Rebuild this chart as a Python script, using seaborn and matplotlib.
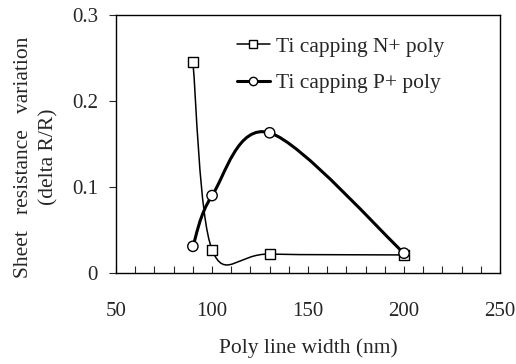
import matplotlib
matplotlib.use("Agg")
import matplotlib.pyplot as plt
from matplotlib.path import Path
from matplotlib.patches import PathPatch
from matplotlib.lines import Line2D
from matplotlib.ticker import MultipleLocator
import seaborn as sns
import pandas as pd

# data
width_nm = [90, 100, 130, 200]
n_plus = [0.245, 0.027, 0.022, 0.021]
p_plus = [0.031, 0.090, 0.163, 0.023]
series_labels = ["Ti capping N+ poly", "Ti capping P+ poly"]
x_ticks = [50, 100, 150, 200, 250]
y_ticks = [0, 0.1, 0.2, 0.3]
y_tick_labels = ["0", "0.1", "0.2", "0.3"]

sns.set_theme(style="ticks")
plt.rcParams['font.family'] = ['Liberation Serif', 'DejaVu Serif']


def smooth_path(xs, ys):
    """Excel-style smoothed line (Catmull-Rom as cubic Bezier)."""
    pts = list(zip(xs, ys))
    ext = [pts[0]] + pts + [pts[-1]]
    verts = [pts[0]]
    codes = [Path.MOVETO]
    for i in range(1, len(ext) - 2):
        p0, p1, p2, p3 = ext[i - 1], ext[i], ext[i + 1], ext[i + 2]
        c1 = (p1[0] + (p2[0] - p0[0]) / 6, p1[1] + (p2[1] - p0[1]) / 6)
        c2 = (p2[0] - (p3[0] - p1[0]) / 6, p2[1] - (p3[1] - p1[1]) / 6)
        verts += [c1, c2, p2]
        codes += [Path.CURVE4] * 3
    return Path(verts, codes)


df = pd.DataFrame({
    'width': width_nm * 2,
    'value': n_plus + p_plus,
    'series': [series_labels[0]] * 4 + [series_labels[1]] * 4,
})

fig = plt.figure(figsize=(5.16, 3.64), dpi=100)
ax = fig.add_axes([0.225, 0.25, 0.744, 0.709])

line_widths = [1.1, 2.2]
markers = ['s', 'o']
for label, vals, lw in zip(series_labels, [n_plus, p_plus], line_widths):
    ax.add_patch(PathPatch(smooth_path(width_nm, vals), facecolor='none',
                           edgecolor='black', lw=lw, zorder=2))

sns.scatterplot(data=df, x='width', y='value', style='series',
                markers=dict(zip(series_labels, markers)), s=55,
                facecolor='white', edgecolor='black', linewidth=1.0,
                color='white', legend=False, ax=ax, zorder=3)

ax.set_xlim(50, 250)
ax.set_ylim(0, 0.3)
ax.set_xticks(x_ticks)
ax.set_yticks(y_ticks)
ax.set_yticklabels(y_tick_labels)
ax.xaxis.set_minor_locator(MultipleLocator(10))
ax.tick_params(axis='x', which='both', direction='in', length=5, width=0.8,
               pad=21, labelsize=15)
ax.tick_params(axis='y', direction='out', length=5, width=0.8, pad=8,
               labelsize=15)
for s in ax.spines.values():
    s.set_linewidth(1.0)
    s.set_color('black')

ax.set_xlabel("Poly line width (nm)", fontsize=15.5, labelpad=12)
ax.set_ylabel("Sheet   resistance   variation\n(delta R/R)", fontsize=15.5,
              linespacing=1.45)
ax.yaxis.set_label_coords(-0.15, 0.45)

handles = [Line2D([], [], color='black', lw=lw, marker=m, markersize=6,
                  markerfacecolor='white', markeredgecolor='black')
           for lw, m in zip(line_widths, markers)]
ax.legend(handles, series_labels, loc='upper left',
          bbox_to_anchor=(0.265, 0.99), frameon=False, fontsize=15.5,
          handlelength=1.5, handletextpad=0.3, labelspacing=0.75)

fig.savefig("out.png", dpi=100, facecolor='white')
